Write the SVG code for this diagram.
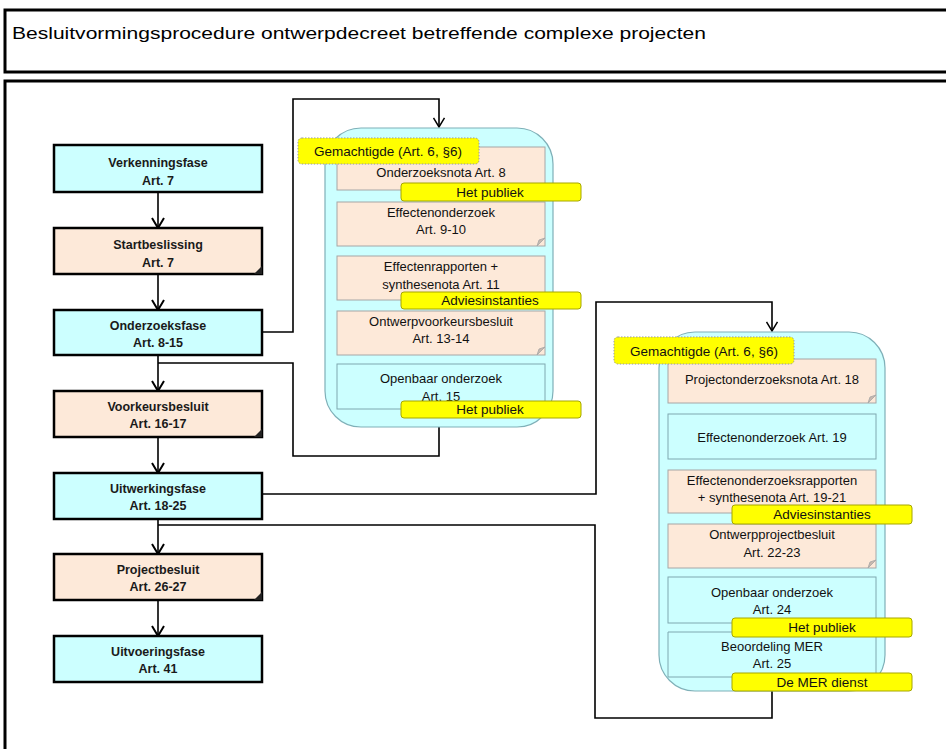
<svg xmlns="http://www.w3.org/2000/svg" width="946" height="749" viewBox="0 0 946 749">
<defs>
<marker id="arr" viewBox="0 0 12 14" refX="11" refY="7" markerWidth="12" markerHeight="14" markerUnits="userSpaceOnUse" orient="auto">
<path d="M1,1 L11,7 L1,13" fill="none" stroke="#000" stroke-width="2"/>
</marker>
<marker id="arr2" viewBox="0 0 12 14" refX="11" refY="7" markerWidth="11" markerHeight="13" markerUnits="userSpaceOnUse" orient="auto">
<path d="M1,1 L11,7 L1,13" fill="none" stroke="#000" stroke-width="1.6"/>
</marker>
</defs>
<style>
.frame{fill:#fff;stroke:#000;stroke-width:3}
.phase{fill:#ccffff;stroke:#000;stroke-width:2.5}
.dec{fill:#fde9d9;stroke:#000;stroke-width:2.5}
.bt{font-family:"Liberation Sans",Arial,sans-serif;font-size:12.5px;font-weight:bold;fill:#1a1a1a;text-anchor:middle}
.cont{fill:#ccffff;stroke:#7fb0b8;stroke-width:1.2}
.ib{fill:#fde9d9;stroke:#a6a6a6;stroke-width:1}
.ic{fill:#ccffff;stroke:#7fa8b0;stroke-width:1}
.it{font-family:"Liberation Sans",Arial,sans-serif;font-size:13px;fill:#111;text-anchor:middle}
.lt{font-family:"Liberation Sans",Arial,sans-serif;font-size:13.5px;fill:#111;text-anchor:middle}
.yl{fill:#ffff00;stroke:#a6a600;stroke-width:1}
.yg{fill:#ffff00;stroke:#999;stroke-width:1;stroke-dasharray:1.5 1.5}
.conn{fill:none;stroke:#000;stroke-width:1.6}
.fold{fill:#222}
.ifold{fill:#c8b8ae;stroke:#a6a6a6;stroke-width:0.8}
</style>
<rect class="frame" x="5" y="10" width="950" height="62"/>
<text x="12" y="39" font-family="'Liberation Sans',Arial,sans-serif" font-size="16.5" fill="#000" textLength="694" lengthAdjust="spacingAndGlyphs">Besluitvormingsprocedure ontwerpdecreet betreffende complexe projecten</text>
<rect class="frame" x="5" y="81" width="950" height="680"/>

<g id="connectors">
<line class="conn" x1="158" y1="192" x2="158" y2="228" marker-end="url(#arr)" stroke-width="2"/>
<line class="conn" x1="158" y1="274" x2="158" y2="310" marker-end="url(#arr)" stroke-width="2"/>
<line class="conn" x1="158" y1="355" x2="158" y2="391" marker-end="url(#arr)" stroke-width="2"/>
<line class="conn" x1="158" y1="437" x2="158" y2="473" marker-end="url(#arr)" stroke-width="2"/>
<line class="conn" x1="158" y1="519" x2="158" y2="554" marker-end="url(#arr)" stroke-width="2"/>
<line class="conn" x1="158" y1="600" x2="158" y2="636" marker-end="url(#arr)" stroke-width="2"/>
<polyline class="conn" points="262,332 293,332 293,99 439,99 439,127" marker-end="url(#arr2)"/>
<polyline class="conn" points="439,427 439,456 293,456 293,363 158,363"/>
<polyline class="conn" points="262,494 596,494 596,302 772,302 772,331" marker-end="url(#arr2)"/>
<polyline class="conn" points="772,691 772,718 595,718 595,525 158,525"/>
</g>

<g id="verkenningsfase"><rect class="phase" x="54" y="145" width="208" height="47"/><text class="bt" x="158" y="167">Verkenningsfase</text><text class="bt" x="158" y="185">Art. 7</text></g>
<g id="startbeslissing"><rect class="dec" x="54" y="228" width="208" height="46"/><polygon class="fold" points="254,274 262,266 262,274"/><text class="bt" x="158" y="249">Startbeslissing</text><text class="bt" x="158" y="267">Art. 7</text></g>
<g id="onderzoeksfase"><rect class="phase" x="54" y="310" width="208" height="45"/><text class="bt" x="158" y="330">Onderzoeksfase</text><text class="bt" x="158" y="347">Art. 8-15</text></g>
<g id="voorkeursbesluit"><rect class="dec" x="54" y="391" width="208" height="46"/><polygon class="fold" points="254,437 262,429 262,437"/><text class="bt" x="158" y="411">Voorkeursbesluit</text><text class="bt" x="158" y="428">Art. 16-17</text></g>
<g id="uitwerkingsfase"><rect class="phase" x="54" y="473" width="208" height="46"/><text class="bt" x="158" y="493">Uitwerkingsfase</text><text class="bt" x="158" y="510">Art. 18-25</text></g>
<g id="projectbesluit"><rect class="dec" x="54" y="554" width="208" height="46"/><polygon class="fold" points="254,600 262,592 262,600"/><text class="bt" x="158" y="574">Projectbesluit</text><text class="bt" x="158" y="591">Art. 26-27</text></g>
<g id="uitvoeringsfase"><rect class="phase" x="54" y="636" width="208" height="46"/><text class="bt" x="158" y="656">Uitvoeringsfase</text><text class="bt" x="158" y="673">Art. 41</text></g>

<g id="onderzoek-container">
<rect class="cont" x="325" y="128" width="228" height="299" rx="36" ry="36"/>
</g>
<g id="onderzoeksnota"><rect class="ib" x="337" y="147" width="208" height="43"/><text class="it" x="441" y="177">Onderzoeksnota Art. 8</text></g>
<g id="effectenonderzoek1"><rect class="ib" x="337" y="202" width="208" height="44"/><polygon class="ifold" points="537,246 545,238 539,240"/><text class="it" x="441" y="217">Effectenonderzoek</text><text class="it" x="441" y="234">Art. 9-10</text></g>
<g id="effectenrapporten"><rect class="ib" x="337" y="256" width="208" height="44"/><text class="it" x="441" y="271">Effectenrapporten +</text><text class="it" x="441" y="289">synthesenota Art. 11</text></g>
<g id="ontwerpvoorkeursbesluit"><rect class="ib" x="337" y="311" width="208" height="44"/><polygon class="ifold" points="537,355 545,347 539,349"/><text class="it" x="441" y="326">Ontwerpvoorkeursbesluit</text><text class="it" x="441" y="343">Art. 13-14</text></g>
<g id="openbaar-onderzoek1"><rect class="ic" x="337" y="364" width="208" height="45"/><text class="it" x="441" y="383">Openbaar onderzoek</text><text class="it" x="441" y="401">Art. 15</text></g>
<g id="gemachtigde1"><rect class="yg" x="298" y="138" width="181" height="26" rx="4"/><text class="lt" x="388" y="156">Gemachtigde (Art. 6, §6)</text></g>
<g id="publiek1"><rect class="yl" x="401" y="183" width="180" height="18" rx="3"/><text class="lt" x="490" y="197">Het publiek</text></g>
<g id="advies1"><rect class="yl" x="401" y="292" width="180" height="17" rx="3"/><text class="lt" x="490" y="305">Adviesinstanties</text></g>
<g id="publiek2"><rect class="yl" x="401" y="401" width="180" height="17" rx="3"/><text class="lt" x="490" y="414">Het publiek</text></g>

<g id="uitwerking-container">
<rect class="cont" x="659" y="332" width="226" height="359" rx="36" ry="36"/>
</g>
<g id="projectonderzoeksnota"><rect class="ib" x="668" y="359" width="208" height="44"/><polygon class="ifold" points="868,403 876,395 870,397"/><text class="it" x="772" y="384">Projectonderzoeksnota Art. 18</text></g>
<g id="effectenonderzoek2"><rect class="ic" x="668" y="414" width="208" height="45"/><text class="it" x="772" y="442">Effectenonderzoek Art. 19</text></g>
<g id="effectenonderzoeksrapporten"><rect class="ib" x="668" y="470" width="208" height="43"/><text class="it" x="772" y="485">Effectenonderzoeksrapporten</text><text class="it" x="772" y="502">+ synthesenota Art. 19-21</text></g>
<g id="ontwerpprojectbesluit"><rect class="ib" x="668" y="524" width="208" height="44"/><polygon class="ifold" points="868,568 876,560 870,562"/><text class="it" x="772" y="539">Ontwerpprojectbesluit</text><text class="it" x="772" y="557">Art. 22-23</text></g>
<g id="openbaar-onderzoek2"><rect class="ic" x="668" y="577" width="208" height="46"/><text class="it" x="772" y="597">Openbaar onderzoek</text><text class="it" x="772" y="614">Art. 24</text></g>
<g id="beoordeling-mer"><path class="ic" d="M668,677 L668,632 L876,632 L876,677"/><line x1="668" y1="677" x2="876" y2="677" stroke="#7fa8b0" stroke-width="1"/><text class="it" x="772" y="651">Beoordeling MER</text><text class="it" x="772" y="668">Art. 25</text></g>
<g id="gemachtigde2"><rect class="yg" x="614" y="337" width="180" height="27" rx="4"/><text class="lt" x="704" y="356">Gemachtigde (Art. 6, §6)</text></g>
<g id="advies2"><rect class="yl" x="732" y="505" width="180" height="19" rx="3"/><text class="lt" x="822" y="519">Adviesinstanties</text></g>
<g id="publiek3"><rect class="yl" x="732" y="618" width="180" height="19" rx="3"/><text class="lt" x="822" y="632">Het publiek</text></g>
<g id="mer-dienst"><rect class="yl" x="732" y="673" width="180" height="18" rx="3"/><text class="lt" x="822" y="687">De MER dienst</text></g>
</svg>
